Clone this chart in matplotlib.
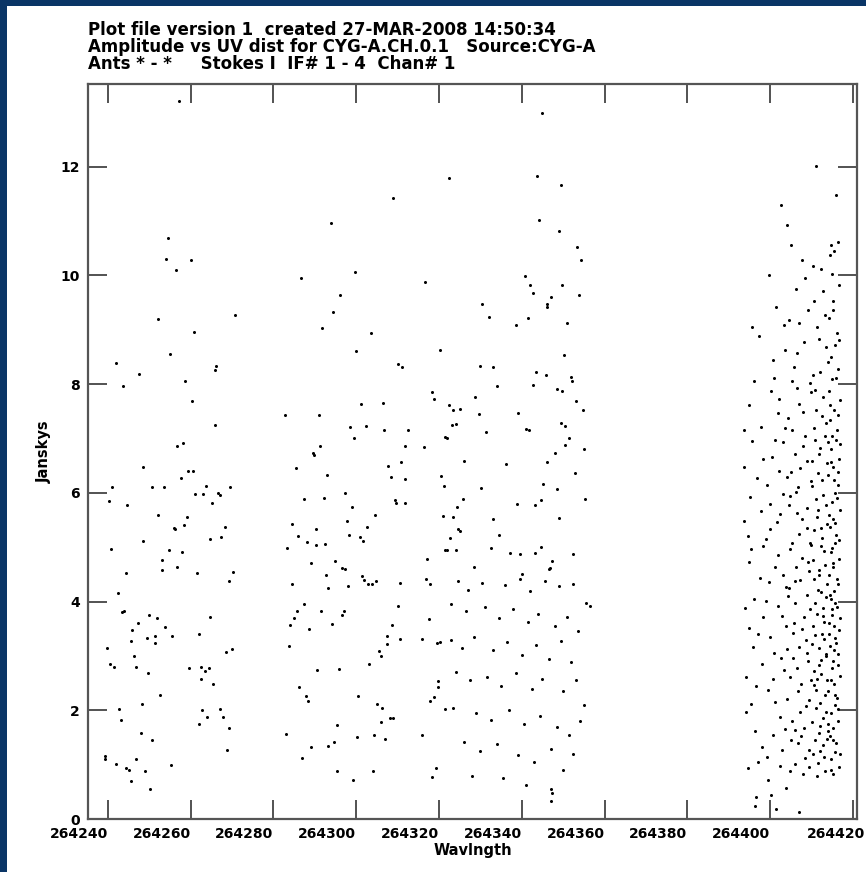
import numpy as np
import matplotlib.pyplot as plt
import matplotlib.transforms as mtransforms
from matplotlib.patches import Rectangle

# points: (wavelength, janskys)
pts_left = [
    (264257.3, 13.20), (264254.5, 10.68), (264254.1, 10.30), (264260.0, 10.28), (264256.4, 10.10),
    (264252.1, 9.19), (264270.6, 9.27),
    (264260.8, 8.96), (264254.9, 8.55), (264241.9, 8.39), (264266.2, 8.34), (264266.0, 8.25),
    (264247.5, 8.18), (264258.7, 8.06), (264243.6, 7.97), (264260.4, 7.69), (264265.8, 7.25),
    (264256.7, 6.87), (264258.1, 6.92), (264248.6, 6.48), (264259.3, 6.41), (264260.5, 6.41),
    (264257.6, 6.28), (264241.0, 6.10), (264250.7, 6.10), (264253.5, 6.10), (264263.8, 6.13),
    (264269.6, 6.11), (264240.2, 5.85), (264244.7, 5.77), (264261.0, 5.97), (264263.1, 5.97),
    (264266.7, 6.00), (264267.0, 5.96), (264265.1, 5.82), (264252.2, 5.60), (264259.2, 5.55),
    (264255.9, 5.35), (264256.3, 5.33), (264258.5, 5.40), (264268.2, 5.37), (264248.5, 5.11),
    (264264.6, 5.15), (264267.4, 5.18), (264240.8, 4.97), (264254.7, 4.94), (264258.0, 4.92),
    (264253.0, 4.77), (264256.8, 4.64), (264244.4, 4.53), (264253.1, 4.58), (264261.5, 4.52),
    (264270.2, 4.55),
    (264269.2, 4.38), (264242.5, 4.16), (264243.5, 3.80), (264243.9, 3.82), (264250.0, 3.75),
    (264251.8, 3.70), (264247.3, 3.60), (264253.9, 3.53), (264245.9, 3.48), (264249.4, 3.33),
    (264251.3, 3.36), (264255.5, 3.37), (264245.6, 3.28), (264251.4, 3.24), (264264.7, 3.72),
    (264262.0, 3.40), (264239.8, 3.14), (264268.6, 3.08), (264270.1, 3.12), (264246.4, 2.99),
    (264240.6, 2.86), (264241.5, 2.80), (264246.8, 2.80), (264249.6, 2.69), (264259.6, 2.77),
    (264262.4, 2.80), (264263.4, 2.72), (264264.4, 2.77), (264262.6, 2.58), (264265.4, 2.49),
    (264252.7, 2.28), (264248.2, 2.12), (264242.6, 2.02), (264243.1, 1.83), (264262.8, 2.00),
    (264267.0, 2.02), (264264.0, 1.88), (264267.8, 1.88), (264262.0, 1.75), (264269.2, 1.68),
    (264247.9, 1.58), (264250.6, 1.45), (264268.9, 1.27), (264239.2, 1.16), (264239.4, 1.11),
    (264242.0, 1.02), (264246.7, 1.11), (264244.3, 0.93), (264245.1, 0.91), (264249.0, 0.88),
    (264255.3, 0.99), (264245.6, 0.70), (264250.3, 0.56),
]

pts_mid = [
    (264308.9, 11.42), (264293.8, 10.96), (264286.7, 9.96), (264299.6, 10.06), (264316.7, 9.87),
    (264296.1, 9.64), (264294.5, 9.33), (264291.8, 9.04),
    (264303.6, 8.94), (264299.9, 8.60), (264310.1, 8.37), (264311.1, 8.31), (264320.2, 8.63),
    (264318.3, 7.85), (264318.7, 7.72), (264301.2, 7.63), (264306.5, 7.66), (264282.9, 7.44),
    (264291.0, 7.44), (264298.6, 7.21), (264302.4, 7.23), (264306.6, 7.15), (264312.5, 7.15),
    (264299.4, 7.01), (264291.2, 6.87), (264289.5, 6.73), (264289.9, 6.70), (264311.9, 6.87),
    (264316.4, 6.84), (264321.5, 7.02), (264285.4, 6.45), (264292.9, 6.33), (264307.8, 6.50),
    (264310.9, 6.56), (264308.5, 6.30), (264311.7, 6.26), (264320.6, 6.31), (264321.2, 6.12),
    (264287.5, 5.88), (264292.2, 5.90), (264297.4, 6.00), (264299.0, 5.74), (264309.3, 5.86),
    (264309.5, 5.81), (264311.7, 5.82), (264304.6, 5.60), (264321.0, 5.57), (264297.7, 5.49),
    (264302.7, 5.38), (264284.5, 5.43), (264290.4, 5.34), (264286.0, 5.21), (264298.2, 5.23),
    (264300.8, 5.18), (264301.6, 5.11), (264288.1, 5.09), (264290.2, 5.04), (264292.4, 5.06),
    (264283.3, 4.98), (264321.4, 4.95), (264289.0, 4.71), (264294.9, 4.75), (264296.6, 4.62),
    (264297.2, 4.60), (264317.1, 4.79), (264292.6, 4.48), (264301.5, 4.47),
    (264284.5, 4.33), (264293.2, 4.24), (264298.0, 4.28), (264301.9, 4.39), (264302.8, 4.32),
    (264303.9, 4.32), (264304.9, 4.38), (264310.7, 4.35), (264316.8, 4.41), (264317.9, 4.32),
    (264287.3, 3.96), (264285.7, 3.82), (264291.6, 3.82), (264297.0, 3.83), (264296.5, 3.76),
    (264284.9, 3.70), (264284.1, 3.56), (264288.7, 3.50), (264294.1, 3.59), (264310.1, 3.92),
    (264317.5, 3.67), (264308.6, 3.56), (264307.4, 3.37), (264307.4, 3.21), (264310.5, 3.31),
    (264316.0, 3.31), (264319.5, 3.24), (264320.3, 3.26), (264283.7, 3.19), (264305.4, 3.09),
    (264305.9, 3.00), (264303.2, 2.85), (264290.6, 2.74), (264295.8, 2.75), (264286.3, 2.43),
    (264319.8, 2.53), (264319.8, 2.43), (264287.8, 2.26), (264288.3, 2.17), (264300.5, 2.27),
    (264305.1, 2.12), (264306.3, 2.05), (264317.9, 2.17), (264318.9, 2.24), (264321.4, 2.02),
    (264295.3, 1.72), (264305.9, 1.78), (264308.1, 1.85), (264308.9, 1.85), (264283.1, 1.56),
    (264300.3, 1.50), (264304.3, 1.55), (264306.9, 1.47), (264315.9, 1.54), (264294.7, 1.42),
    (264293.3, 1.34), (264289.2, 1.33), (264286.9, 1.13), (264295.3, 0.88), (264304.0, 0.88),
    (264299.2, 0.71), (264319.2, 0.93), (264318.2, 0.77),
]

pts_right = [
    (264345.0, 12.99), (264322.4, 11.79), (264343.8, 11.82), (264349.4, 11.67), (264344.2, 11.02),
    (264349.0, 10.82), (264353.4, 10.52), (264354.4, 10.29), (264340.7, 9.98), (264341.9, 9.83),
    (264349.8, 9.82), (264342.7, 9.67), (264347.0, 9.61), (264353.8, 9.64), (264346.2, 9.48),
    (264346.1, 9.41), (264330.4, 9.47), (264332.0, 9.24), (264341.5, 9.21), (264338.5, 9.09),
    (264350.9, 9.13),
    (264350.2, 8.54), (264329.8, 8.34), (264333.0, 8.31), (264343.5, 8.22), (264345.8, 8.17),
    (264352.0, 8.13), (264352.1, 8.06), (264334.1, 7.97), (264342.7, 7.98), (264348.4, 7.91),
    (264349.7, 7.88), (264328.7, 7.77), (264353.0, 7.69), (264354.8, 7.52), (264322.4, 7.61),
    (264323.4, 7.52), (264325.1, 7.55), (264329.7, 7.45), (264339.2, 7.47), (264323.2, 7.24),
    (264324.2, 7.27), (264341.1, 7.18), (264341.7, 7.15), (264331.4, 7.12), (264349.4, 7.29),
    (264350.4, 7.22), (264321.9, 7.01), (264351.3, 7.01), (264350.5, 6.88), (264355.0, 6.81),
    (264348.1, 6.73), (264326.1, 6.59), (264336.3, 6.53), (264346.0, 6.56), (264352.8, 6.37),
    (264345.1, 6.17), (264348.6, 6.07), (264330.1, 6.08), (264355.2, 5.89), (264325.8, 5.89),
    (264324.4, 5.74), (264338.8, 5.80), (264343.1, 5.77), (264344.7, 5.86), (264323.5, 5.55),
    (264333.0, 5.52), (264348.9, 5.54), (264324.6, 5.34), (264325.0, 5.29), (264334.4, 5.23),
    (264322.6, 5.17), (264321.9, 4.95), (264324.2, 4.94), (264332.5, 4.98), (264337.2, 4.90),
    (264339.6, 4.87), (264343.1, 4.90), (264344.6, 5.00), (264352.5, 4.87), (264347.4, 4.74),
    (264346.6, 4.59), (264346.9, 4.62), (264328.5, 4.63), (264340.1, 4.50),
    # lower part of the third group
    (264324.5, 4.38), (264327.0, 4.22), (264330.5, 4.35), (264336.0, 4.30), (264339.5, 4.41),
    (264342.0, 4.20), (264345.5, 4.37), (264349.0, 4.28), (264352.5, 4.32), (264355.5, 3.98),
    (264356.5, 3.92), (264323.0, 3.95), (264326.5, 3.82), (264331.0, 3.90), (264334.5, 3.70),
    (264338.0, 3.86), (264341.5, 3.63), (264344.0, 3.78), (264348.0, 3.55), (264351.0, 3.72),
    (264353.5, 3.45), (264322.8, 3.30), (264325.5, 3.15), (264328.5, 3.35), (264333.0, 3.10),
    (264336.5, 3.25), (264340.0, 3.02), (264343.5, 3.20), (264346.5, 2.95), (264349.5, 3.28),
    (264352.0, 2.88), (264324.0, 2.70), (264327.5, 2.55), (264331.5, 2.62), (264335.0, 2.45),
    (264338.5, 2.68), (264342.5, 2.40), (264345.0, 2.58), (264350.0, 2.35), (264353.0, 2.55),
    (264355.0, 2.10), (264323.5, 2.05), (264329.0, 1.95), (264332.5, 1.82), (264337.0, 2.00),
    (264340.5, 1.75), (264344.5, 1.90), (264348.5, 1.70), (264351.5, 1.55), (264354.0, 1.80),
    (264326.0, 1.42), (264330.0, 1.25), (264334.0, 1.38), (264339.0, 1.18), (264343.0, 1.05),
    (264347.0, 1.28), (264352.5, 1.20), (264328.0, 0.80), (264335.5, 0.75), (264341.0, 0.62),
    (264347.0, 0.56), (264347.2, 0.47), (264347.1, 0.34), (264350.0, 0.90),
]

pts_far = [
    (264395.6, 6.95), (264394.1, 2.62), (264397.3, 8.88), (264396.2, 4.05), (264393.8, 5.48),
    (264398.1, 1.33), (264395.0, 7.62), (264397.0, 3.41), (264394.6, 0.93), (264396.9, 6.28),
    (264398.3, 5.03), (264393.9, 3.88), (264395.4, 2.11), (264397.7, 7.21), (264394.8, 4.72),
    (264396.4, 1.62), (264398.0, 2.86), (264395.2, 5.92), (264393.6, 6.47), (264396.7, 0.41),
    (264397.5, 4.44), (264394.3, 1.96), (264395.9, 3.16), (264398.4, 6.62), (264396.1, 8.05),
    (264394.7, 5.21), (264397.2, 1.05), (264395.3, 4.96), (264393.7, 7.15), (264396.6, 2.45),
    (264398.2, 3.72), (264394.9, 3.52), (264397.9, 5.67), (264396.3, 0.24), (264395.7, 9.05),
    (264402.7, 11.30), (264404.0, 10.92), (264399.8, 10.00), (264401.4, 9.42), (264403.5, 8.62),
    (264400.3, 7.88), (264402.1, 6.41), (264399.1, 5.15), (264403.8, 4.27), (264400.9, 3.06),
    (264402.5, 1.88), (264399.4, 0.72), (264401.8, 7.47), (264403.2, 6.93), (264400.0, 5.79),
    (264401.1, 4.63), (264403.9, 3.55), (264399.6, 2.38), (264402.9, 1.27), (264400.6, 8.45),
    (264401.6, 5.47), (264399.0, 4.01), (264403.4, 2.74), (264402.3, 0.98), (264400.4, 6.66),
    (264403.0, 5.97), (264401.2, 2.16), (264399.9, 3.34), (264402.0, 4.85), (264403.7, 7.19),
    (264400.8, 1.55), (264401.9, 3.92), (264399.3, 6.14), (264403.1, 4.49), (264402.6, 2.96),
    (264400.2, 0.45), (264403.6, 1.66), (264401.3, 6.98), (264399.7, 4.36), (264402.4, 5.61),
    (264401.0, 8.12), (264403.3, 9.08), (264400.7, 2.57), (264402.8, 3.74), (264399.2, 1.14),
    (264404.1, 6.29), (264401.5, 0.19), (264403.9, 0.57), (264400.1, 5.33), (264402.2, 7.73),
    (264405.0, 10.55), (264407.8, 10.28), (264406.3, 9.74), (264409.2, 9.36), (264404.6, 9.18),
    (264408.1, 8.77), (264405.7, 8.31), (264409.6, 8.02), (264406.9, 7.64), (264404.3, 7.38),
    (264408.5, 7.05), (264405.9, 6.72), (264407.3, 6.45), (264409.8, 6.21), (264404.8, 5.94),
    (264406.6, 5.63), (264408.9, 5.36), (264405.3, 5.08), (264407.6, 4.81), (264409.4, 4.57),
    (264404.5, 4.25), (264406.1, 3.98), (264408.3, 3.71), (264405.5, 3.42), (264407.0, 3.17),
    (264409.1, 2.90), (264404.9, 2.62), (264406.8, 2.35), (264408.7, 2.07), (264405.2, 1.81),
    (264407.4, 1.52), (264409.5, 1.27), (264406.0, 1.01), (264408.0, 0.83), (264407.1, 0.12),
    (264408.4, 9.96), (264406.5, 8.58), (264409.9, 7.86), (264405.4, 7.16), (264407.9, 6.87),
    (264406.2, 6.02), (264409.0, 5.72), (264404.7, 4.96), (264407.2, 4.39), (264409.7, 3.87),
    (264405.8, 3.61), (264408.6, 3.29), (264406.4, 2.78), (264404.2, 2.21), (264408.2, 1.67),
    (264406.7, 1.39), (264409.3, 0.96), (264405.1, 6.38), (264407.7, 5.51), (264404.4, 4.11),
    (264409.2, 4.72), (264406.9, 5.24), (264408.8, 6.58), (264405.6, 2.97), (264407.5, 2.49),
    (264409.4, 2.19), (264404.1, 3.13), (264406.3, 4.63), (264408.0, 7.49), (264405.3, 8.06),
    (264407.0, 9.12), (264409.6, 5.07), (264406.0, 1.63), (264408.5, 1.13), (264404.9, 0.88),
    (264407.6, 3.49), (264409.8, 2.55), (264405.9, 4.38), (264406.8, 6.11), (264408.9, 4.12),
    (264404.6, 5.77), (264407.3, 1.96), (264409.0, 3.06), (264405.0, 1.45), (264406.4, 7.92),
    (264411.2, 12.02), (264412.4, 10.12), (264410.6, 9.52), (264413.3, 9.27), (264411.8, 8.83),
    (264413.9, 8.41), (264410.3, 8.16), (264412.7, 7.77), (264411.0, 7.53), (264413.5, 7.29),
    (264410.9, 6.97), (264412.1, 6.83), (264413.8, 6.55), (264411.5, 6.36), (264410.2, 6.12),
    (264412.9, 5.96), (264413.6, 5.78), (264411.3, 5.55), (264410.7, 5.31), (264412.5, 5.17),
    (264413.1, 4.93), (264410.4, 4.76), (264411.9, 4.58), (264413.7, 4.33), (264412.2, 4.17),
    (264410.8, 3.97), (264411.4, 3.78), (264413.0, 3.62), (264412.6, 3.41), (264410.1, 3.22),
    (264413.4, 3.03), (264411.7, 2.84), (264412.3, 2.66), (264410.5, 2.47), (264413.2, 2.28),
    (264411.1, 2.05), (264412.8, 1.86), (264413.9, 1.62), (264410.9, 1.45), (264412.0, 1.25),
    (264411.6, 1.03), (264413.3, 0.88),
    (264410.4, 10.18), (264412.9, 9.71), (264411.4, 9.05), (264413.6, 8.68), (264412.0, 8.22),
    (264410.8, 7.90), (264413.2, 7.05), (264411.7, 6.71), (264410.1, 6.58), (264412.6, 6.24),
    (264413.8, 5.43), (264411.0, 5.88), (264412.3, 5.02), (264410.6, 4.42), (264413.4, 4.08),
    (264411.5, 4.21), (264412.8, 3.88), (264410.3, 3.55), (264413.1, 3.31), (264411.8, 3.14),
    (264412.4, 2.93), (264410.7, 2.72), (264413.7, 2.55), (264411.2, 2.37), (264412.1, 2.14),
    (264413.5, 1.97), (264410.2, 1.78), (264411.9, 1.58), (264412.7, 1.36), (264413.0, 1.14),
    (264411.3, 0.79), (264412.5, 7.41), (264410.5, 7.19), (264413.9, 6.94), (264411.6, 5.69),
    (264412.2, 5.36), (264410.0, 5.04), (264413.3, 4.67), (264411.9, 4.49), (264412.9, 3.73),
    (264410.9, 3.38), (264413.6, 2.99), (264411.4, 2.58), (264412.0, 1.71), (264410.4, 1.19),
    (264413.8, 1.48),
    (264416.0, 11.47), (264414.6, 10.56), (264415.5, 10.45), (264416.4, 10.62), (264414.9, 10.02),
    (264416.7, 9.82), (264415.2, 9.53), (264414.3, 9.21), (264416.1, 8.94), (264415.7, 8.71),
    (264414.8, 8.49), (264416.5, 8.28), (264415.0, 8.09), (264414.2, 7.88), (264416.8, 7.71),
    (264415.4, 7.52), (264414.5, 7.34), (264416.2, 7.16), (264415.9, 6.98), (264414.7, 6.81),
    (264416.6, 6.63), (264415.1, 6.47), (264414.1, 6.32), (264416.3, 6.15), (264415.6, 5.99),
    (264414.9, 5.83), (264416.9, 5.68), (264415.3, 5.52), (264414.4, 5.37), (264416.0, 5.22),
    (264415.8, 5.07), (264414.6, 4.92), (264416.7, 4.78), (264415.2, 4.63), (264414.3, 4.48),
    (264416.4, 4.33), (264415.5, 4.19), (264414.8, 4.04), (264416.1, 3.90), (264415.0, 3.76),
    (264414.2, 3.61), (264416.6, 3.47), (264415.7, 3.33), (264414.5, 3.18), (264416.3, 3.04),
    (264415.1, 2.91), (264414.9, 2.77), (264416.8, 2.63), (264415.4, 2.49), (264414.1, 2.36),
    (264416.2, 2.22), (264415.8, 2.09), (264414.7, 1.95), (264416.5, 1.81), (264415.3, 1.67),
    (264414.4, 1.53), (264416.0, 1.39), (264415.6, 1.24), (264414.8, 1.10), (264416.6, 0.96),
    (264415.2, 0.83),
    (264415.9, 8.12), (264414.4, 7.61), (264416.4, 7.44), (264415.0, 7.05), (264416.9, 6.89),
    (264414.6, 6.56), (264415.5, 6.24), (264416.2, 5.91), (264414.3, 5.60), (264415.8, 5.45),
    (264416.7, 5.14), (264414.9, 4.99), (264415.3, 4.70), (264416.1, 4.41), (264414.5, 4.12),
    (264415.7, 3.97), (264416.8, 3.69), (264414.2, 3.40), (264415.4, 3.11), (264416.5, 2.84),
    (264414.8, 2.56), (264415.6, 2.29), (264416.3, 2.02), (264414.1, 1.74), (264415.1, 1.46),
    (264416.9, 1.19), (264414.7, 0.90), (264416.6, 8.82), (264415.1, 9.36), (264414.5, 10.38),
    (264416.3, 6.38), (264415.4, 3.55), (264416.0, 3.24), (264414.9, 3.87),
]

title_lines = [
    'Plot file version 1  created 27-MAR-2008 14:50:34',
    'Amplitude vs UV dist for CYG-A.CH.0.1   Source:CYG-A',
    'Ants * - *     Stokes I  IF# 1 - 4  Chan# 1',
]
xticks = np.arange(264240, 264421, 20)
yticks = np.arange(0, 13, 2)

plt.rcParams['font.family'] = ['DejaVu Sans']
plt.rcParams['font.weight'] = 'bold'

fig = plt.figure(figsize=(8.66, 8.72), dpi=100)
fig.patch.set_facecolor('white')
# dark blue frame on the top and left edges
fig.patches.append(Rectangle((0, 1 - 6 / 872), 1, 6 / 872, transform=fig.transFigure,
                             facecolor='#0a3566', edgecolor='none', zorder=-5))
fig.patches.append(Rectangle((0, 0), 7 / 866, 1, transform=fig.transFigure,
                             facecolor='#0a3566', edgecolor='none', zorder=-5))

ax = fig.add_axes([88 / 866, 53 / 872, 769 / 866, 735 / 872])
ax.set_zorder(2)
pts = np.array(pts_left + pts_mid + pts_right + pts_far)
ax.plot(pts[:, 0], pts[:, 1], 'o', color='black', ms=2.2, mew=0)

ax.set_xlim(264235.2, 264421.0)
ax.set_ylim(0, 13.52)
ax.set_xticks(xticks)
ax.set_xticklabels([str(t) for t in xticks], fontsize=10)
ax.set_yticks(yticks)
ax.tick_params(direction='in', length=14, width=1.3, color='#444444', top=True, right=True,
               labelsize=10, pad=6)
ax.tick_params(axis='x', pad=6)
xlabs = ax.get_xticklabels()
for lab in xlabs:
    lab.set_horizontalalignment('right')
# last label pushed right to the edge, as in the original
xlabs[-1].set_transform(xlabs[-1].get_transform() +
                        mtransforms.ScaledTranslation(0.12, 0, fig.dpi_scale_trans))
for s in ax.spines.values():
    s.set_color('#555555')
    s.set_linewidth(1.6)
ax.set_xlabel('Wavlngth', fontsize=10.5, fontweight='bold', labelpad=1)
ax.set_ylabel('Janskys', fontsize=10.5, fontweight='bold', labelpad=6)

fig.text(88 / 866, 1 - 21 / 872, '\n'.join(title_lines), fontsize=12, fontweight='bold',
         ha='left', va='top', linespacing=0.92)

fig.savefig('out.png', dpi=100, facecolor=fig.get_facecolor())
